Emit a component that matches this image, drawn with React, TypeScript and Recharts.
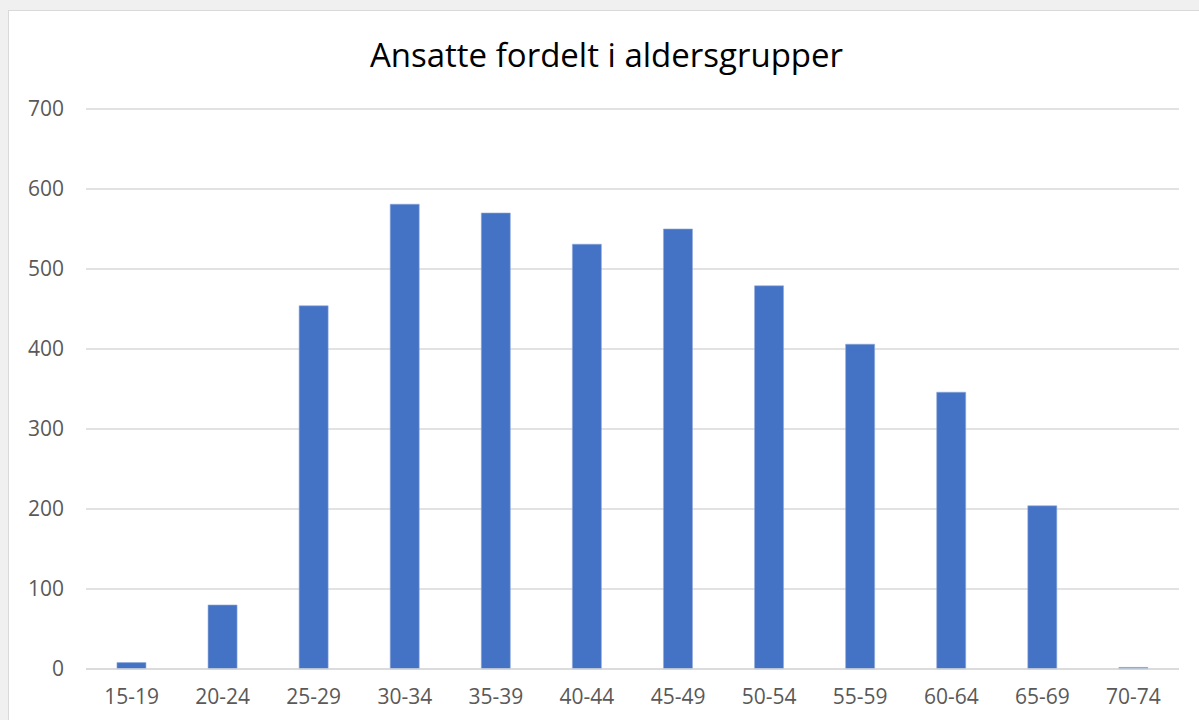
import { Bar, BarChart, CartesianGrid, XAxis, YAxis } from 'recharts';

const ageGroups = ['15-19', '20-24', '25-29', '30-34', '35-39', '40-44', '45-49', '50-54', '55-59', '60-64', '65-69', '70-74'];
const employees = [8, 80, 454, 581, 570, 531, 550, 479, 406, 346, 204, 2];
const yTicks = [0, 100, 200, 300, 400, 500, 600, 700];

const data = ageGroups.map((group, i) => ({ group, count: employees[i] }));

const FONT = '"Open Sans", "Noto Sans", sans-serif';

export default function App() {
  return (
    <div style={{ position: 'fixed', left: 0, top: 0, width: 1199, height: 720, background: '#f0f0f0', overflow: 'hidden' }}>
      <div
        style={{
          position: 'absolute',
          left: 8,
          top: 10,
          width: 1200,
          height: 720,
          background: '#fff',
          borderTop: '1px solid #d9d9d9',
          borderLeft: '1px solid #d9d9d9',
        }}
      >
        <div
          style={{
            position: 'absolute',
            left: 2,
            top: 21,
            width: 1191,
            textAlign: 'center',
            fontFamily: FONT,
            fontSize: 33,
            color: '#000',
          }}
        >
          Ansatte fordelt i aldersgrupper
        </div>
        <BarChart
          width={1191}
          height={710}
          data={data}
          margin={{ top: 98, right: 21, left: 7, bottom: 22 }}
          barCategoryGap="34%"
        >
          <CartesianGrid vertical={false} stroke="#d9d9d9" strokeWidth={1.5} />
          <XAxis
            dataKey="group"
            height={30}
            tickLine={false}
            axisLine={{ stroke: '#d9d9d9', strokeWidth: 1.5 }}
            tickMargin={14}
            tick={{ fill: '#595959', fontSize: 21, fontFamily: FONT }}
            interval={0}
          />
          <YAxis
            width={70}
            domain={[0, 700]}
            ticks={yTicks}
            tickLine={false}
            axisLine={false}
            tickMargin={16}
            tick={{ fill: '#595959', fontSize: 21, fontFamily: FONT }}
          />
          <Bar dataKey="count" fill="#4472c4" stroke="#8faadc" strokeWidth={0.6} isAnimationActive={false} />
        </BarChart>
      </div>
    </div>
  );
}
